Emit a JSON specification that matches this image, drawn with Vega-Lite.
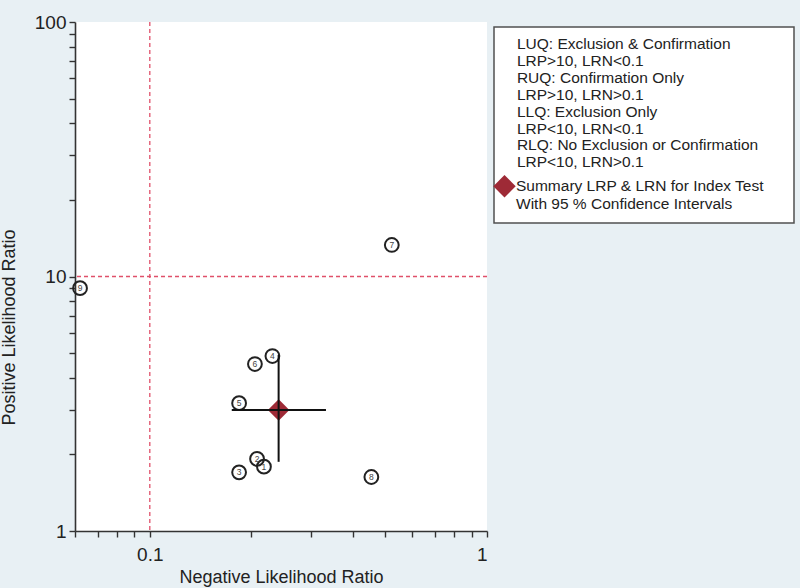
{
  "$schema": "https://vega.github.io/schema/vega-lite/v6.json",
  "width": 412,
  "height": 509,
  "autosize": {"type": "none"},
  "padding": {"left": 75, "top": 22, "right": 313, "bottom": 57},
  "background": "#e8f0f4",
  "config": {
    "view": {"fill": "white", "stroke": null},
    "font": "Liberation Sans",
    "legend": {"strokeWidth": 1.5},
    "axis": {
      "grid": false,
      "domainColor": "#333333",
      "domainWidth": 1.6,
      "tickColor": "#333333",
      "tickWidth": 1.4,
      "tickSize": 6,
      "labelFont": "Liberation Sans",
      "labelFontSize": 19,
      "labelColor": "#222222",
      "titleFont": "Liberation Sans",
      "titleFontSize": 18,
      "titleFontWeight": "normal",
      "titleColor": "#222222"
    }
  },
  "datasets": {
    "studies": [
      {"id": "1", "lrn": 0.218, "lrp": 1.79},
      {"id": "2", "lrn": 0.208, "lrp": 1.92},
      {"id": "3", "lrn": 0.184, "lrp": 1.7},
      {"id": "4", "lrn": 0.231, "lrp": 4.87},
      {"id": "5", "lrn": 0.184, "lrp": 3.18},
      {"id": "6", "lrn": 0.205, "lrp": 4.53},
      {"id": "7", "lrn": 0.522, "lrp": 13.3},
      {"id": "8", "lrn": 0.454, "lrp": 1.63},
      {"id": "9", "lrn": 0.0621, "lrp": 9.0}
    ],
    "summary": [
      {"series": "Summary LRP & LRN for Index Test|With 95 % Confidence Intervals", "lrn": 0.241, "lrp": 2.99, "lrn_lo": 0.175, "lrn_hi": 0.333, "lrp_lo": 1.87, "lrp_hi": 4.92}
    ],
    "refx": [{"v": 0.1}],
    "refy": [{"v": 10}]
  },
  "layer": [
    {
      "data": {"name": "refx"},
      "mark": {"type": "rule", "color": "#e0506a", "strokeDash": [4, 3], "strokeWidth": 1.3},
      "encoding": {
        "x": {"field": "v", "type": "quantitative", "title": "Negative Likelihood Ratio", "scale": {"type": "log", "domain": [0.06, 1], "nice": false}}
      }
    },
    {
      "data": {"name": "refy"},
      "mark": {"type": "rule", "color": "#e0506a", "strokeDash": [4, 3], "strokeWidth": 1.3},
      "encoding": {
        "y": {"field": "v", "type": "quantitative", "title": "Positive Likelihood Ratio", "scale": {"type": "log", "domain": [1, 100], "nice": false}}
      }
    },
    {
      "data": {"name": "studies"},
      "mark": {"type": "point", "shape": "circle", "filled": false, "stroke": "#222222", "strokeWidth": 2, "size": 190, "opacity": 1},
      "encoding": {
        "x": {
          "field": "lrn", "type": "quantitative", "title": "Negative Likelihood Ratio",
          "scale": {"type": "log", "domain": [0.06, 1], "nice": false},
          "axis": {
            "values": [0.06, 0.07, 0.08, 0.09, 0.1, 0.2, 0.3, 0.4, 0.5, 0.6, 0.7, 0.8, 0.9, 1],
            "format": "~g",
            "labelExpr": "datum.value == 0.1 || datum.value == 1 ? datum.label : ''",
            "labelPadding": 8,
            "titlePadding": 4
          }
        },
        "y": {
          "field": "lrp", "type": "quantitative", "title": "Positive Likelihood Ratio",
          "scale": {"type": "log", "domain": [1, 100], "nice": false},
          "axis": {
            "values": [1, 2, 3, 4, 5, 6, 7, 8, 9, 10, 20, 30, 40, 50, 60, 70, 80, 90, 100],
            "format": "~g",
            "labelExpr": "datum.value == 1 || datum.value == 10 || datum.value == 100 ? datum.label : ''",
            "labelPadding": 3,
            "titleX": -57,
            "titleY": 305
          }
        }
      }
    },
    {
      "data": {"name": "studies"},
      "mark": {"type": "text", "fontSize": 8.5, "color": "#444444", "baseline": "middle", "align": "center"},
      "encoding": {
        "x": {"field": "lrn", "type": "quantitative", "title": "Negative Likelihood Ratio", "scale": {"type": "log", "domain": [0.06, 1], "nice": false}},
        "y": {"field": "lrp", "type": "quantitative", "title": "Positive Likelihood Ratio", "scale": {"type": "log", "domain": [1, 100], "nice": false}},
        "text": {"field": "id", "type": "nominal"}
      }
    },
    {
      "data": {"name": "summary"},
      "mark": {"type": "point", "shape": "diamond", "filled": true, "size": 460, "opacity": 1},
      "encoding": {
        "x": {"field": "lrn", "type": "quantitative", "title": "Negative Likelihood Ratio", "scale": {"type": "log", "domain": [0.06, 1], "nice": false}},
        "y": {"field": "lrp", "type": "quantitative", "title": "Positive Likelihood Ratio", "scale": {"type": "log", "domain": [1, 100], "nice": false}},
        "color": {
          "field": "series", "type": "nominal",
          "scale": {"range": ["#9e2a36"]},
          "legend": {
            "orient": "none",
            "legendX": 419,
            "legendY": 5,
            "title": ["\u200b\u00a0\u00a0\u00a0LUQ: Exclusion & Confirmation", "\u200b\u00a0\u00a0\u00a0LRP>10, LRN<0.1", "\u200b\u00a0\u00a0\u00a0RUQ: Confirmation Only", "\u200b\u00a0\u00a0\u00a0LRP>10, LRN>0.1", "\u200b\u00a0\u00a0\u00a0LLQ: Exclusion Only", "\u200b\u00a0\u00a0\u00a0LRP<10, LRN<0.1", "\u200b\u00a0\u00a0\u00a0RLQ: No Exclusion or Confirmation\u00a0\u00a0\u00a0\u00a0\u00a0\u00a0\u200b", "\u200b\u00a0\u00a0\u00a0LRP<10, LRN>0.1"],
            "titleFont": "Liberation Sans",
            "titleFontSize": 15.5,
            "titleFontWeight": "normal",
            "titleColor": "#222222",
            "titleLineHeight": 16.9,
            "titlePadding": 4,
            "titleLimit": 0,
            "labelExpr": "split(datum.label, '|')",
            "labelFont": "Liberation Sans",
            "labelFontSize": 15.5,
            "labelColor": "#222222",
            "labelLimit": 0,
            "labelOffset": 0,
            "symbolType": "diamond",
            "symbolSize": 500,
            "symbolStrokeWidth": 0,
            "symbolOffset": -11,
            "padding": 10,
            "strokeColor": "#505050",
            "fillColor": "#ffffff"
          }
        }
      }
    },
    {
      "data": {"name": "summary"},
      "mark": {"type": "rule", "color": "#111111", "strokeWidth": 2},
      "encoding": {
        "x": {"field": "lrn_lo", "type": "quantitative", "title": "Negative Likelihood Ratio", "scale": {"type": "log", "domain": [0.06, 1], "nice": false}},
        "x2": {"field": "lrn_hi"},
        "y": {"field": "lrp", "type": "quantitative", "title": "Positive Likelihood Ratio", "scale": {"type": "log", "domain": [1, 100], "nice": false}}
      }
    },
    {
      "data": {"name": "summary"},
      "mark": {"type": "rule", "color": "#111111", "strokeWidth": 2},
      "encoding": {
        "x": {"field": "lrn", "type": "quantitative", "title": "Negative Likelihood Ratio", "scale": {"type": "log", "domain": [0.06, 1], "nice": false}},
        "y": {"field": "lrp_lo", "type": "quantitative", "title": "Positive Likelihood Ratio", "scale": {"type": "log", "domain": [1, 100], "nice": false}},
        "y2": {"field": "lrp_hi"}
      }
    }
  ]
}
